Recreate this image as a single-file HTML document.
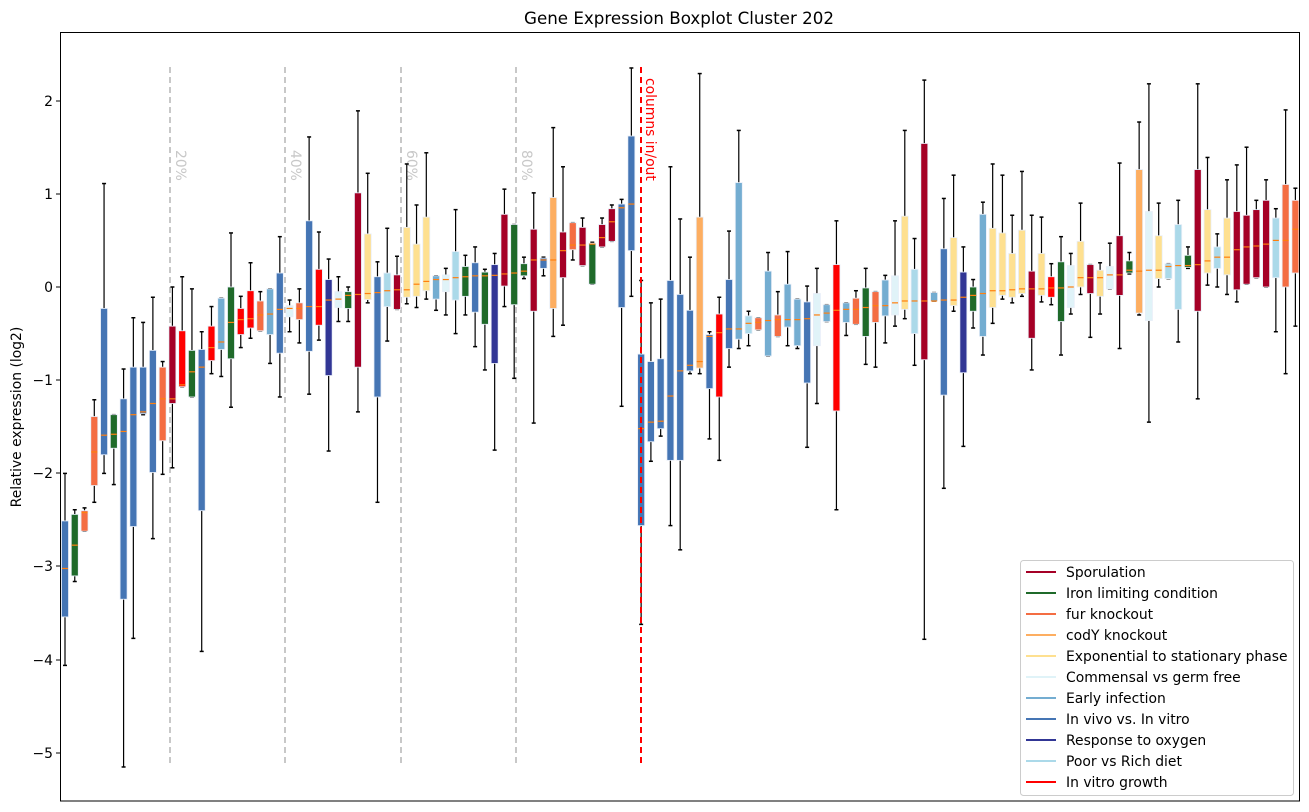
<!DOCTYPE html>
<html><head><meta charset="utf-8"><style>
body{margin:0;background:#fff;}
svg{display:block;font-family:"DejaVu Sans","Liberation Sans",sans-serif;}
</style></head><body>
<svg id="s" width="1309" height="812" viewBox="0 0 1309 812" xmlns="http://www.w3.org/2000/svg">
<rect width="1309" height="812" fill="#fff"/>
<text x="679" y="24" font-size="16.7" text-anchor="middle">Gene Expression Boxplot Cluster 202</text>
<text transform="translate(21,417) rotate(-90)" font-size="13.9" text-anchor="middle">Relative expression (log2)</text>
<g font-size="13.9" text-anchor="end">
<text x="53" y="106">2</text><text x="53" y="199">1</text><text x="53" y="292">0</text>
<text x="53" y="385">−1</text><text x="53" y="478">−2</text><text x="53" y="571">−3</text>
<text x="53" y="665">−4</text><text x="53" y="758">−5</text>
</g>
<g stroke="#000" stroke-width="1">
<line x1="56" y1="101" x2="60" y2="101"/><line x1="56" y1="194" x2="60" y2="194"/><line x1="56" y1="287" x2="60" y2="287"/>
<line x1="56" y1="380" x2="60" y2="380"/><line x1="56" y1="473" x2="60" y2="473"/><line x1="56" y1="566" x2="60" y2="566"/>
<line x1="56" y1="660" x2="60" y2="660"/><line x1="56" y1="753" x2="60" y2="753"/>
</g>
<g stroke="#c8c8c8" stroke-width="2" stroke-dasharray="6,4">
<line x1="170" y1="67" x2="170" y2="767"/><line x1="285" y1="67" x2="285" y2="767"/>
<line x1="401" y1="67" x2="401" y2="767"/><line x1="516" y1="67" x2="516" y2="767"/>
</g>
<g font-size="13.9" fill="#c8c8c8">
<text transform="translate(176,150) rotate(90)">20%</text>
<text transform="translate(291,150) rotate(90)">40%</text>
<text transform="translate(407,150) rotate(90)">60%</text>
<text transform="translate(522,150) rotate(90)">80%</text>
</g>
<g id="boxes"></g>
<line x1="641" y1="67" x2="641" y2="767" stroke="#f00" stroke-width="2" stroke-dasharray="6,4"/>
<text transform="translate(646,78) rotate(90)" font-size="13.9" fill="#f00">columns in/out</text>
<rect x="60.5" y="32.5" width="1239" height="768.5" fill="none" stroke="#000" stroke-width="1"/>
<rect x="1020.5" y="560.5" width="273" height="235" rx="3" fill="#fff" fill-opacity="0.85" stroke="#ccc"/>
<g stroke-width="2">
<line x1="1026" y1="572" x2="1056" y2="572" stroke="#a50026"/>
<line x1="1026" y1="593" x2="1056" y2="593" stroke="#1f6a2a"/>
<line x1="1026" y1="614" x2="1056" y2="614" stroke="#f46d43"/>
<line x1="1026" y1="635" x2="1056" y2="635" stroke="#fdae61"/>
<line x1="1026" y1="656" x2="1056" y2="656" stroke="#fee090"/>
<line x1="1026" y1="677" x2="1056" y2="677" stroke="#e0f3f8"/>
<line x1="1026" y1="698" x2="1056" y2="698" stroke="#74add1"/>
<line x1="1026" y1="719" x2="1056" y2="719" stroke="#4575b4"/>
<line x1="1026" y1="740" x2="1056" y2="740" stroke="#313695"/>
<line x1="1026" y1="761" x2="1056" y2="761" stroke="#abd9e9"/>
<line x1="1026" y1="782" x2="1056" y2="782" stroke="#ff0000"/>
</g>
<g font-size="13.9">
<text x="1066" y="577">Sporulation</text>
<text x="1066" y="598">Iron limiting condition</text>
<text x="1066" y="619">fur knockout</text>
<text x="1066" y="640">codY knockout</text>
<text x="1066" y="661">Exponential to stationary phase</text>
<text x="1066" y="682">Commensal vs germ free</text>
<text x="1066" y="703">Early infection</text>
<text x="1066" y="724">In vivo vs. In vitro</text>
<text x="1066" y="745">Response to oxygen</text>
<text x="1066" y="766">Poor vs Rich diet</text>
<text x="1066" y="787">In vitro growth</text>
</g>
</svg>
<script>
var C={S:"#a50026",I:"#1f6a2a",F:"#f46d43",C:"#fdae61",E:"#fee090",G:"#e0f3f8",EI:"#74add1",V:"#4575b4",O:"#313695",P:"#abd9e9",R:"#ff0000"};
var D=[
[-2.0,-2.51,-3.02,-3.54,-4.06,"V"],[-2.39,-2.44,-2.77,-3.1,-3.16,"I"],[-2.37,-2.4,-2.42,-2.62,-2.62,"F"],
[-1.21,-1.39,-1.77,-2.13,-2.31,"F"],[1.11,-0.23,-1.59,-1.8,-2.0,"V"],[-1.37,-1.37,-1.58,-1.73,-2.12,"I"],
[-0.88,-1.2,-1.55,-3.35,-5.15,"V"],[-0.33,-0.86,-1.37,-2.57,-3.77,"V"],[-0.38,-0.86,-1.34,-1.36,-1.37,"V"],
[-0.11,-0.68,-1.25,-1.99,-2.7,"V"],[-0.8,-0.86,-1.2,-1.65,-2.01,"F"],[0.0,-0.42,-1.2,-1.25,-1.94,"S"],
[0.11,-0.47,-1.05,-1.07,-1.07,"R"],[-0.02,-0.68,-0.91,-1.18,-1.18,"I"],[-0.48,-0.67,-0.86,-2.4,-3.91,"V"],
[-0.21,-0.42,-0.65,-0.79,-0.93,"R"],[-0.12,-0.12,-0.59,-0.67,-0.96,"EI"],[0.58,0.0,-0.38,-0.77,-1.29,"I"],
[-0.1,-0.23,-0.35,-0.51,-0.65,"R"],[0.26,-0.04,-0.34,-0.44,-0.55,"R"],[-0.05,-0.15,-0.3,-0.47,-0.47,"F"],
[-0.02,-0.02,-0.29,-0.51,-0.82,"EI"],[0.54,0.15,-0.24,-0.71,-1.18,"V"],[-0.14,-0.2,-0.23,-0.32,-0.48,"G"],
[-0.02,-0.17,-0.23,-0.35,-0.6,"F"],[1.61,0.71,-0.21,-0.69,-1.15,"V"],[0.59,0.19,-0.21,-0.41,-0.57,"R"],
[0.3,0.08,-0.14,-0.95,-1.76,"O"],[0.11,-0.05,-0.13,-0.22,-0.37,"G"],[0.0,-0.05,-0.09,-0.23,-0.37,"I"],
[1.89,1.01,-0.08,-0.86,-1.34,"S"],[1.22,0.57,-0.07,-0.135,-0.17,"E"],[0.27,0.11,-0.06,-1.18,-2.31,"V"],
[0.63,0.15,-0.04,-0.21,-0.58,"P"],[0.33,0.13,-0.03,-0.24,-0.24,"S"],[1.32,0.64,-0.03,-0.11,-0.18,"E"],
[0.88,0.46,0.03,-0.1,-0.22,"E"],[1.44,0.75,0.06,-0.04,-0.13,"E"],[0.12,0.12,0.08,-0.13,-0.25,"EI"],
[0.2,0.13,0.08,-0.05,-0.3,"G"],[0.83,0.38,0.1,-0.14,-0.5,"P"],[0.34,0.22,0.11,-0.1,-0.3,"I"],
[0.43,0.26,0.12,-0.27,-0.64,"V"],[0.19,0.16,0.12,-0.4,-0.89,"I"],[0.36,0.24,0.125,-0.82,-1.75,"O"],
[1.05,0.78,0.14,0.01,-0.21,"S"],[0.67,0.67,0.15,-0.19,-0.98,"I"],[0.32,0.25,0.17,0.12,0.09,"I"],
[1.01,0.62,0.29,-0.26,-1.46,"S"],[0.32,0.31,0.29,0.2,0.12,"V"],[1.71,0.96,0.29,-0.23,-0.53,"C"],
[1.29,0.59,0.39,0.1,-0.41,"S"],[0.69,0.69,0.45,0.4,0.29,"F"],[0.74,0.64,0.45,0.23,0.23,"S"],
[0.48,0.47,0.46,0.03,0.03,"I"],[0.74,0.67,0.53,0.43,0.43,"S"],[0.88,0.84,0.7,0.49,0.49,"S"],
[0.94,0.89,0.85,-0.22,-1.28,"V"],[2.35,1.62,0.89,0.39,-0.1,"V"],
[0.07,-0.72,-1.52,-2.56,-3.62,"V"],[-0.17,-0.8,-1.45,-1.66,-1.87,"V"],[-0.13,-0.77,-1.44,-1.52,-1.6,"V"],
[1.29,0.07,-1.17,-1.86,-2.56,"V"],[0.73,-0.08,-0.9,-1.86,-2.82,"V"],[0.32,-0.25,-0.84,-0.9,-0.93,"V"],
[2.29,0.75,-0.8,-0.87,-0.93,"C"],[-0.48,-0.51,-0.53,-1.09,-1.63,"V"],[-0.11,-0.29,-0.49,-1.18,-1.86,"R"],
[0.6,0.08,-0.45,-0.66,-0.86,"V"],[1.68,1.12,-0.45,-0.56,-0.66,"EI"],[-0.26,-0.31,-0.39,-0.5,-0.63,"P"],
[-0.33,-0.33,-0.38,-0.46,-0.46,"F"],[0.37,0.17,-0.36,-0.74,-0.74,"EI"],[-0.05,-0.3,-0.35,-0.53,-0.53,"F"],
[0.38,0.03,-0.35,-0.43,-0.63,"EI"],[-0.13,-0.13,-0.35,-0.63,-0.66,"EI"],[0.01,-0.16,-0.34,-1.03,-1.72,"V"],
[0.2,-0.07,-0.3,-0.63,-1.25,"G"],[-0.19,-0.19,-0.28,-0.37,-0.37,"EI"],[0.71,0.24,-0.25,-1.33,-2.39,"R"],
[-0.17,-0.17,-0.24,-0.38,-0.52,"EI"],[-0.04,-0.12,-0.24,-0.4,-0.4,"F"],[0.2,-0.01,-0.22,-0.53,-0.83,"I"],
[-0.05,-0.05,-0.2,-0.38,-0.86,"F"],[0.125,0.075,-0.2,-0.31,-0.6,"EI"],[0.71,0.12,-0.17,-0.3,-0.42,"G"],
[1.68,0.76,-0.15,-0.24,-0.34,"E"],[0.52,0.19,-0.15,-0.5,-0.84,"P"],[2.22,1.54,-0.15,-0.78,-3.78,"S"],
[-0.06,-0.06,-0.15,-0.15,-0.15,"EI"],[0.95,0.41,-0.14,-1.16,-2.16,"V"],[1.2,0.53,-0.14,-0.2,-0.26,"E"],
[0.43,0.16,-0.11,-0.92,-1.71,"O"],[0.08,0.0,-0.09,-0.26,-0.44,"I"],[0.91,0.78,-0.07,-0.53,-0.73,"EI"],
[1.32,0.63,-0.04,-0.22,-0.39,"E"],[1.2,0.58,-0.04,-0.09,-0.13,"E"],[0.77,0.36,-0.03,-0.11,-0.17,"E"],
[1.24,0.61,-0.02,-0.07,-0.1,"E"],[0.77,0.17,-0.02,-0.55,-0.89,"S"],[0.75,0.36,-0.02,-0.09,-0.16,"E"],
[0.25,0.11,-0.01,-0.11,-0.19,"R"],[0.54,0.27,-0.01,-0.37,-0.73,"I"],[0.36,0.23,0.0,-0.22,-0.29,"G"],
[0.9,0.49,0.1,0.0,-0.08,"E"],[0.24,0.24,0.1,-0.07,-0.54,"S"],[0.26,0.18,0.1,-0.1,-0.29,"E"],
[0.47,0.22,0.13,-0.02,-0.02,"G"],[1.33,0.55,0.13,-0.09,-0.66,"S"],[0.37,0.28,0.18,0.15,0.14,"I"],
[1.77,1.26,0.17,-0.28,-0.3,"C"],[2.18,0.81,0.18,-0.36,-1.45,"G"],[0.9,0.55,0.18,0.09,0.0,"E"],
[0.25,0.25,0.22,0.09,0.09,"P"],[0.93,0.67,0.23,-0.24,-0.59,"P"],[0.43,0.34,0.23,0.21,0.2,"I"],
[2.18,1.26,0.24,-0.26,-1.2,"S"],[1.39,0.83,0.28,0.15,0.02,"E"],[0.57,0.43,0.32,0.2,0.0,"P"],
[1.15,0.74,0.32,0.13,-0.08,"E"],[1.31,0.81,0.4,-0.03,-0.16,"S"],[1.5,0.77,0.43,0.03,0.03,"S"],
[0.93,0.83,0.44,0.1,0.1,"S"],[1.15,0.93,0.46,0.0,0.0,"S"],[0.84,0.74,0.5,0.1,-0.48,"P"],
[1.9,1.1,0.5,0.0,-0.93,"F"],[1.06,0.93,0.62,0.15,-0.42,"F"]
];
function Y(v){return 287-93.2*v;}
var h="";
for(var i=0;i<D.length;i++){
 var d=D[i],x=65+i*9.765,c=C[d[5]];
 var wt=Y(d[0]),bt=Y(d[1]),md=Y(d[2]),bb=Y(d[3]),wb=Y(d[4]);
 h+='<line x1="'+x+'" y1="'+wt+'" x2="'+x+'" y2="'+wb+'" stroke="#000" stroke-width="1.2"/>';
 h+='<line x1="'+(x-2)+'" y1="'+wt+'" x2="'+(x+2)+'" y2="'+wt+'" stroke="#000" stroke-width="1.5"/>';
 h+='<line x1="'+(x-2)+'" y1="'+wb+'" x2="'+(x+2)+'" y2="'+wb+'" stroke="#000" stroke-width="1.5"/>';
 h+='<rect x="'+(x-3.5)+'" y="'+bt+'" width="7" height="'+Math.max(bb-bt,1)+'" fill="'+c+'" stroke="#e8eef8" stroke-width="0.8"/>';
 h+='<line x1="'+(x-3)+'" y1="'+md+'" x2="'+(x+3)+'" y2="'+md+'" stroke="#ff7f0e" stroke-width="1.2"/>';
}
document.getElementById("boxes").innerHTML=h;
</script>
</body></html>
